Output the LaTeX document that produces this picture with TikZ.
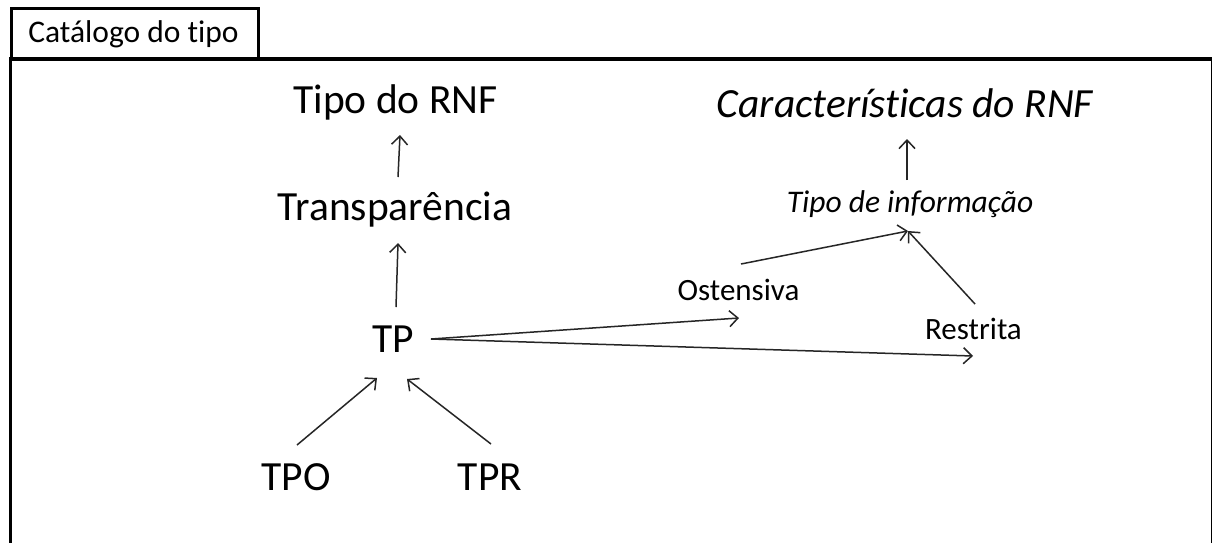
\documentclass[tikz,border=0pt]{standalone}
\usepackage{fontspec}
\setmainfont{Carlito}[Ligatures={NoCommon,NoRequired,NoContextual}]
\usetikzlibrary{arrows.meta}

\tikzset{
  big/.style={anchor=base, inner sep=0pt, font=\fontsize{41.5}{48}\selectfont},
  bigit/.style={big, font=\fontsize{41.5}{48}\selectfont\itshape},
  mid/.style={anchor=base, inner sep=0pt, font=\fontsize{31}{37}\selectfont},
  midit/.style={mid, font=\fontsize{31.5}{37}\selectfont\itshape},
  link/.style={draw=black!85, line width=1.5pt,
    -{Straight Barb[length=8.5pt, width=16pt, line width=1.5pt]}},
  frameline/.style={draw=black, line width=3.5pt}
}

\begin{document}
\begin{tikzpicture}[x=1pt, y=-1pt]
  \useasboundingbox (0,0) rectangle (1212,542);
  \fill[white] (0,0) rectangle (1212,542);

  % outer frame (open at the bottom) and title tab
  \draw[frameline] (10.5,560) -- (10.5,59) -- (1212.8,59) -- (1212.8,560);
  \draw[draw=black, line width=3.3pt] (11.5,59) -- (11.5,8.3) -- (258.8,8.3) -- (258.8,59);
  \node[mid, font=\fontsize{31.5}{37}\selectfont] (cat) at (133.5,42) {Catálogo do tipo};

  % left column
  \node[big] (tiporNF) at (395.5,113) {Tipo do RNF};
  \node[big] (transp) at (395,220.7) {Transparência};
  \node[big] (tp) at (393.5,352) {TP};
  \node[big] (tpo) at (296,490) {TPO};
  \node[big] (tpr) at (490,490) {TPR};

  % right column
  \node[bigit] (carac) at (905,117) {Características do RNF};
  \node[midit] (tinfo) at (910,212) {Tipo de informação};
  \node[mid] (ost) at (738.5,300) {Ostensiva};
  \node[mid] (rest) at (973.5,339) {Restrita};

  % connectors
  \draw[link] ([shift={(3,-43.7)}]transp.base) -- ([shift={(4.5,22)}]tiporNF.base);
  \draw[link] ([shift={(2.5,-45)}]tp.base) -- ([shift={(3,22.3)}]transp.base);
  \draw[link] ([shift={(-3,-32)}]tinfo.base) -- ([shift={(2,22)}]carac.base);
  \draw[link] ([shift={(37.5,-13)}]tp.base) -- ([shift={(0.5,18)}]ost.base);
  \draw[link] ([shift={(37.5,-13)}]tp.base) -- ([shift={(-0.5,17)}]rest.base);
  \draw[link] ([shift={(2.5,-36)}]ost.base) -- ([shift={(-2,19)}]tinfo.base);
  \draw[link] ([shift={(1.5,-35)}]rest.base) -- ([shift={(-2,19)}]tinfo.base);
  \draw[link] ([shift={(1,-45)}]tpo.base) -- ([shift={(-16.5,26)}]tp.base);
  \draw[link] ([shift={(1,-46)}]tpr.base) -- ([shift={(13.5,27)}]tp.base);
\end{tikzpicture}
\end{document}
